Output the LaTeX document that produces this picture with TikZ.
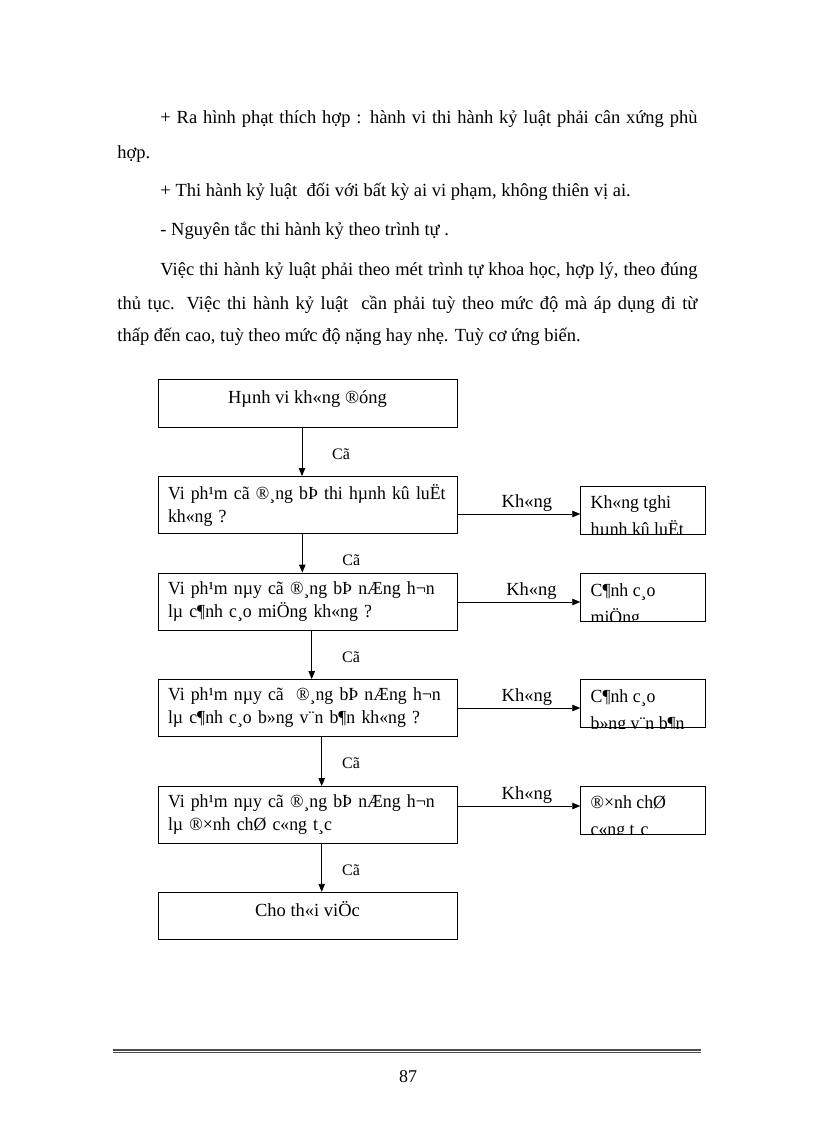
\documentclass[tikz,border=0pt]{standalone}
\usepackage{fontspec}
\setmainfont{Liberation Serif}
\newfontfamily\flowfont[FakeStretch=0.96]{Liberation Serif}
\usetikzlibrary{arrows.meta}

\begin{document}
\begin{tikzpicture}[->,>={Triangle[length=8pt,width=6.5pt]},x=1pt,y=-1pt,line width=0.9pt,
                    font=\fontsize{18.5}{23}\selectfont]
\tikzstyle{every node}=[inner sep=0pt]
\tikzstyle{body}=[anchor=base west,font=\fontsize{18.5}{22}\selectfont]
\tikzstyle{qbox}=[draw,minimum width=299pt,minimum height=57pt,text width=279pt,align=left,inner xsep=10pt,
                  font=\fontsize{18.5}{23}\flowfont]
\tikzstyle{endbox}=[draw,minimum width=299pt,minimum height=47.5pt,text height=6pt,text depth=6pt]
\tikzstyle{side}=[draw,minimum width=125pt,minimum height=48pt]
\tikzstyle{sidetext}=[anchor=base west,font=\fontsize{18.5}{23}\flowfont]
\tikzstyle{yes}=[font=\fontsize{16}{18}\selectfont]
\tikzstyle{no}=[anchor=base,yshift=6.5pt]
\useasboundingbox (0,0) rectangle (816,1123);

\node[body] (p1) at (160,124) {\makebox[537pt][s]{+ Ra hình phạt thích hợp : hành vi thi hành kỷ luật phải cân xứng phù}};
\node[body] (p2) at (117,159) {hợp.};
\node[body] (p3) at (160,197) {+ Thi hành kỷ luật~ đối với bất kỳ ai vi phạm, không thiên vị ai.};
\node[body] (p4) at (160,236) {- Nguyên tắc thi hành kỷ theo trình tự .};
\node[body] (p5) at (160,275) {\makebox[537pt][s]{Việc thi hành kỷ luật phải theo mét trình tự khoa học, hợp lý, theo đúng}};
\node[body] (p6) at (117,309) {\makebox[580pt][s]{thủ tục. Việc thi hành kỷ luật~ cần phải tuỳ theo mức độ mà áp dụng đi từ}};
\node[body] (p7) at (117,341) {thấp đến cao, tuỳ theo mức độ nặng hay nhẹ. Tuỳ cơ ứng biến.};

\node[endbox] (b1) at (307.5,403.5) {Hµnh vi kh«ng ®óng};
\node[qbox] [below of=b1,node distance=101.5pt] (b2) {Vi ph¹m cã ®¸ng bÞ thi hµnh kû luËt\\kh«ng ?};
\node[qbox] [below of=b2,node distance=96.5pt] (b3) {Vi ph¹m nµy cã ®¸ng bÞ nÆng h¬n\\lµ c¶nh c¸o miÖng kh«ng ?};
\node[qbox] [below of=b3,node distance=106.5pt] (b4) {Vi ph¹m nµy cã~ ®¸ng bÞ nÆng h¬n\\lµ c¶nh c¸o b»ng v¨n b¶n kh«ng ?};
\node[qbox] [below of=b4,node distance=107pt] (b5) {Vi ph¹m nµy cã ®¸ng bÞ nÆng h¬n\\lµ ®×nh chØ c«ng t¸c};
\node[endbox] [below of=b5,node distance=101pt] (b6) {Cho th«i viÖc};

\node[side] [right of=b2,node distance=335.7pt,yshift=-5pt] (r2) {};
\node[side] [right of=b3,node distance=335.7pt,yshift=4pt] (r3) {};
\node[side] [right of=b4,node distance=335.7pt,yshift=4.2pt] (r4) {};
\node[side] [right of=b5,node distance=335.7pt,yshift=4.8pt] (r5) {};

% text of the small boxes, cut off by their frames
\foreach \r/\top/\bot in {r2/Kh«ng tghi/hµnh kû luËt, r3/C¶nh c¸o/miÖng,
                          r4/C¶nh c¸o/b»ng v¨n b¶n, r5/®×nh chØ/c«ng t¸c} {
  \begin{scope}
    \clip (\r.south west) rectangle (\r.north east);
    \node[sidetext] (\r a) at ([xshift=10pt,yshift=-23pt]\r.north west) {\top};
    \node[sidetext] (\r b) at ([xshift=10pt,yshift=-50pt]\r.north west) {\bot};
  \end{scope}
}

\path ([xshift=-5.5pt]b1.south) edge node[yes,right=29.7pt,pos=0.54] {Cã} ([xshift=-5.5pt]b2.north)
      ([xshift=-5.2pt]b2.south) edge node[yes,right=39.7pt,pos=0.68] {Cã} ([xshift=-5.2pt]b3.north)
      ([xshift=4.2pt]b3.south) edge node[yes,right=30pt,pos=0.55] {Cã} ([xshift=4.2pt]b4.north)
      ([xshift=14.2pt]b4.south) edge node[yes,right=20pt,pos=0.53] {Cã} ([xshift=14.2pt]b5.north)
      ([xshift=14.2pt]b5.south) edge node[yes,right=20pt,pos=0.54] {Cã} ([xshift=14.2pt]b6.north);

\path ([yshift=-9pt]b2.east) edge node[no,xshift=8pt] {Kh«ng} ([yshift=-9pt]b2.east -| r2.west)
      ([yshift=-0.5pt]b3.east) edge node[no,xshift=12.7pt] {Kh«ng} ([yshift=-0.5pt]b3.east -| r3.west)
      (b4.east) edge node[no,xshift=8pt] {Kh«ng} (b4.east -| r4.west)
      ([yshift=9pt]b5.east) edge node[no,xshift=8pt] {Kh«ng} ([yshift=9pt]b5.east -| r5.west);

\draw[-,line width=2pt,black!70] (113,1049.5) -- (701,1049.5);
\draw[-,line width=1pt,black!70] (113,1052.5) -- (701,1052.5);
\node[font=\fontsize{18}{22}\selectfont] (pg) at (408,1077) {87};
\end{tikzpicture}
\end{document}
